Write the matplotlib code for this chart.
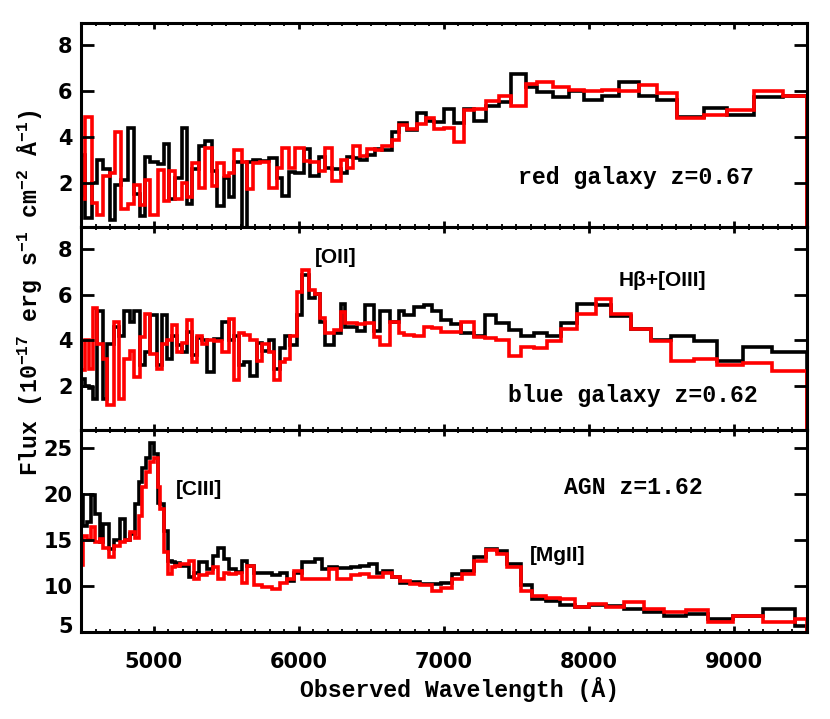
import matplotlib
matplotlib.use("Agg")
import matplotlib.pyplot as plt
import matplotlib.transforms as mtransforms
from matplotlib.ticker import MultipleLocator, FixedLocator

plt.rcParams['mathtext.default'] = 'regular'

# red galaxy z=0.67 : bin edges (Angstrom), observed (black), model (red)
top_edges = [4500, 4529, 4575, 4609, 4651, 4701, 4731, 4775, 4821, 4862, 4908, 4943, 4977,
             5028, 5074, 5103, 5149, 5195, 5230, 5264, 5310, 5356, 5402, 5437, 5483, 5517,
             5552, 5609, 5644, 5685, 5736, 5793, 5851, 5885, 5931, 5977, 6034, 6080, 6138,
             6184, 6230, 6288, 6334, 6374, 6425, 6471, 6529, 6575, 6644, 6690, 6747, 6816,
             6874, 6931, 7000, 7069, 7138, 7210, 7290, 7379, 7460, 7563, 7640, 7750, 7860,
             7966, 8092, 8207, 8345, 8471, 8609, 8793, 8954, 9140, 9340, 9500]
top_black = [3.2, 0.45, 2.0, 3.0, 2.6, 0.35, 1.9, 2.1, 4.4, 1.5,
             0.55, 3.1, 2.9, 2.8, 3.7, 1.3, 2.2, 4.4, 1.05, 2.6,
             3.6, 3.8, 2.5, 0.97, 2.2, 1.35, 2.9, -0.5, 2.9, 3.0,
             2.95, 3.05, 2.2, 1.4, 2.45, 2.4, 3.45, 2.3, 3.1, 2.65,
             2.6, 2.4, 3.1, 3.05, 3.0, 3.2, 3.45, 3.4, 4.2, 4.6,
             4.3, 5.05, 4.7, 4.65, 5.2, 4.6, 5.2, 4.7, 5.35, 5.5,
             6.75, 6.15, 5.95, 5.75, 6.0, 5.6, 5.8, 6.4, 5.8, 5.6,
             4.85, 5.25, 4.95, 5.75, 5.8]
top_red = [1.3, 4.85, 1.1, 0.6, 2.3, 2.4, 4.2, 0.85, 1.05, 1.9,
           1.0, 2.1, 0.6, 2.55, 1.2, 2.5, 1.3, 2.0, 1.35, 2.85,
           1.75, 3.5, 1.85, 2.85, 2.3, 2.4, 3.4, 2.9, 1.7, 2.85,
           2.9, 1.75, 2.65, 3.5, 2.65, 3.5, 2.95, 2.9, 2.5, 3.5,
           2.05, 3.0, 2.65, 3.6, 3.15, 3.45, 3.4, 3.6, 3.85, 4.5,
           4.35, 4.55, 4.8, 4.35, 4.4, 3.75, 5.15, 5.2, 5.55, 5.8,
           5.35, 6.3, 6.4, 6.15, 6.05, 6.0, 6.02, 5.98, 6.25, 5.9,
           4.8, 4.95, 5.15, 6.0, 5.8]

# blue galaxy z=0.62
mid_edges = [4500, 4529, 4552, 4582, 4609, 4651, 4678, 4724, 4759, 4793, 4839, 4862, 4908,
             4943, 4977, 5023, 5057, 5092, 5126, 5161, 5195, 5230, 5264, 5299, 5333, 5368,
             5414, 5471, 5517, 5552, 5586, 5621, 5667, 5713, 5747, 5793, 5828, 5874, 5908,
             5943, 5989, 6023, 6069, 6115, 6149, 6184, 6242, 6288, 6322, 6402, 6460, 6517,
             6563, 6632, 6690, 6724, 6793, 6862, 6920, 6977, 7046, 7115, 7207, 7283, 7356,
             7448, 7529, 7621, 7713, 7805, 7920, 8051, 8154, 8287, 8425, 8563, 8724, 8885,
             9062, 9264, 9500]
mid_black = [2.3, 2.0, 1.9, 1.45, 5.3, 1.45, 3.85, 4.6, 4.2, 5.3,
             4.8, 5.3, 2.9, 3.5, 5.1, 2.9, 5.1, 3.2, 4.2, 3.8,
             3.5, 4.35, 3.35, 4.1, 4.0, 2.6, 4.05, 4.8, 4.0, 4.2,
             2.9, 3.05, 2.45, 3.9, 3.55, 4.0, 2.75, 3.65, 4.2, 3.8,
             5.1, 6.85, 5.85, 6.05, 4.8, 3.8, 4.3, 5.6, 4.6, 4.4,
             5.55, 4.4, 5.3, 4.8, 5.3, 5.1, 5.45, 5.55, 5.3, 4.9,
             4.7, 4.3, 4.2, 5.1, 4.75, 4.45, 4.2, 4.3, 4.2, 4.75,
             5.6, 5.55, 5.05, 4.5, 4.0, 4.2, 3.95, 3.1, 3.7, 3.5]
mid_red = [2.7, 4.0, 2.75, 5.4, 3.85, 3.2, 1.15, 4.8, 1.45, 3.2,
           3.55, 2.4, 4.15, 5.15, 3.4, 2.75, 3.85, 4.0, 4.65, 3.5,
           3.9, 4.9, 3.05, 4.2, 3.85, 4.0, 3.95, 3.5, 4.95, 2.25,
           4.3, 4.25, 4.0, 3.1, 3.85, 3.5, 2.25, 3.05, 3.2, 4.2,
           6.1, 7.1, 6.2, 6.05, 5.0, 4.3, 4.45, 5.25, 4.75, 4.72,
           4.78, 4.15, 3.8, 4.8, 4.3, 4.25, 4.2, 4.6, 4.55, 4.35,
           4.38, 4.8, 4.15, 4.1, 4.0, 3.3, 3.7, 3.68, 3.95, 4.5,
           5.15, 5.8, 5.15, 4.5, 3.95, 3.1, 3.2, 2.9, 3.0, 2.65]

# AGN z=1.62
agn_edges = [4500, 4517, 4540, 4568, 4598, 4632, 4655, 4690, 4724, 4770, 4805, 4839, 4874,
             4897, 4920, 4950, 4977, 5000, 5028, 5046, 5069, 5097, 5126, 5149, 5184, 5241,
             5276, 5315, 5368, 5409, 5442, 5483, 5522, 5568, 5609, 5644, 5690, 5747, 5816,
             5874, 5920, 5966, 6023, 6115, 6161, 6207, 6265, 6357, 6425, 6487, 6540, 6580,
             6644, 6701, 6770, 6839, 6920, 6982, 7057, 7126, 7207, 7287, 7368, 7437, 7529,
             7609, 7701, 7800, 7903, 8000, 8120, 8241, 8379, 8517, 8667, 8823, 8993, 9202,
             9421, 9500]
agn_black = [19.9, 16.6, 17.0, 19.9, 17.9, 14.8, 16.8, 14.1, 15.0, 17.3,
             15.0, 15.7, 18.9, 21.3, 22.9, 24.0, 25.6, 24.4, 19.1, 19.0,
             16.0, 12.8, 12.6, 12.5, 12.25, 11.0, 11.5, 12.6, 11.9, 13.3,
             14.2, 13.0, 11.9, 11.6, 12.8, 12.25, 11.5, 11.4, 11.2, 11.5,
             10.6, 11.5, 12.6, 13.0, 11.9, 12.1, 12.0, 12.1, 12.25, 12.4,
             11.5, 11.7, 11.0, 10.4, 10.45, 10.25, 10.3, 10.4, 11.3, 11.7,
             13.15, 14.1, 13.8, 12.4, 10.1, 8.6, 8.4, 8.0, 7.7, 8.0,
             7.9, 7.5, 7.2, 6.8, 7.0, 6.45, 6.75, 7.5, 5.65]
agn_red = [12.3, 15.5, 15.0, 16.4, 14.8, 15.1, 14.2, 13.15, 14.4, 14.8,
           15.0, 15.9, 15.3, 17.7, 20.8, 22.4, 23.5, 24.0, 20.8, 18.4,
           13.7, 11.3, 12.1, 12.25, 12.4, 12.8, 10.8, 11.2, 11.5, 12.1,
           10.8, 11.5, 11.3, 11.5, 10.4, 12.25, 10.1, 9.9, 9.7, 10.4,
           10.8, 11.7, 10.8, 10.85, 10.8, 11.9, 10.8, 11.2, 11.3, 11.0,
           11.05, 11.5, 11.0, 10.6, 10.25, 10.1, 9.5, 9.8, 10.8, 11.3,
           12.7, 14.0, 13.5, 12.1, 9.5, 8.9, 8.7, 8.6, 7.7, 8.1,
           7.8, 8.25, 7.5, 7.2, 7.4, 6.1, 6.8, 6.15, 6.45]

W, H = 830, 719
fig = plt.figure(figsize=(W / 100, H / 100), dpi=100)

LABEL_FONT = dict(family='Liberation Mono', weight='bold', fontsize=16.7)
LINE_FONT = dict(family='Liberation Sans', weight='bold', fontsize=15)

# panel rows in pixels (top, bottom)
rows = [(22.7, 226.7), (226.7, 430.0), (430.0, 632.3)]
panels = [
    (top_edges, top_black, top_red, (0.07, 8.98), [2, 4, 6, 8]),
    (mid_edges, mid_black, mid_red, (0.07, 8.98), [2, 4, 6, 8]),
    (agn_edges, agn_black, agn_red, (5, 27), [5, 10, 15, 20, 25]),
]

axes = []
for (y0, y1), (edges, black, red, ylim, yticks) in zip(rows, panels):
    ax = fig.add_axes([81 / W, 1 - y1 / H, (806.7 - 81) / W, (y1 - y0) / H])
    ax.stairs(black, edges, color='black', lw=2.6)
    ax.stairs(red, edges, color='#ff0000', lw=2.6)
    ax.set_xlim(4500, 9500)
    ax.set_ylim(*ylim)
    ax.xaxis.set_major_locator(MultipleLocator(1000))
    ax.xaxis.set_minor_locator(MultipleLocator(100))
    ax.yaxis.set_major_locator(FixedLocator(yticks))
    ax.tick_params(which='both', direction='in', top=True, right=True)
    ax.tick_params(axis='y', which='major', length=9.6, width=2, pad=6)
    ax.tick_params(axis='x', which='major', length=4.5, width=2, pad=14)
    ax.tick_params(axis='x', which='minor', length=2.5, width=1.3)
    for s in ax.spines.values():
        s.set_linewidth(2.2)
    for lab in ax.get_xticklabels() + ax.get_yticklabels():
        lab.set_fontfamily('DejaVu Sans')
        lab.set_fontweight('bold')
        lab.set_fontsize(15)
    axes.append(ax)

axes[0].tick_params(labelbottom=False)
axes[1].tick_params(labelbottom=False)

# lowest tick label of the AGN panel sits a little above its tick
lab5 = axes[2].yaxis.get_major_ticks()[0].label1
lab5.set_transform(lab5.get_transform() +
                   mtransforms.ScaledTranslation(0, 5 / 72, fig.dpi_scale_trans))

axes[0].text(8322, 2.2, 'red galaxy z=0.67', ha='center', va='center', **LABEL_FONT)
axes[1].text(8301, 1.6, 'blue galaxy z=0.62', ha='center', va='center', **LABEL_FONT)
axes[2].text(8308, 20.7, 'AGN z=1.62', ha='center', va='center', **LABEL_FONT)

axes[1].text(6254, 7.65, '[OII]', ha='center', va='center', **LINE_FONT)
axes[1].text(8508, 6.64, 'Hβ+[OIII]', ha='center', va='center', **LINE_FONT)
axes[2].text(5316, 20.5, '[CIII]', ha='center', va='center', **LINE_FONT)
axes[2].text(7787, 13.4, '[MgII]', ha='center', va='center', **LINE_FONT)

fig.text(460 / W, 1 - 690 / H, 'Observed Wavelength (Å)', ha='center', va='center',
         **LABEL_FONT)
fig.text(30 / W, 1 - 293 / H,
         r'Flux (10$^{-17}$ erg s$^{-1}$ cm$^{-2}$ Å$^{-1}$)',
         rotation=90, ha='center', va='center', **LABEL_FONT)

fig.savefig('out.png', dpi=100)
